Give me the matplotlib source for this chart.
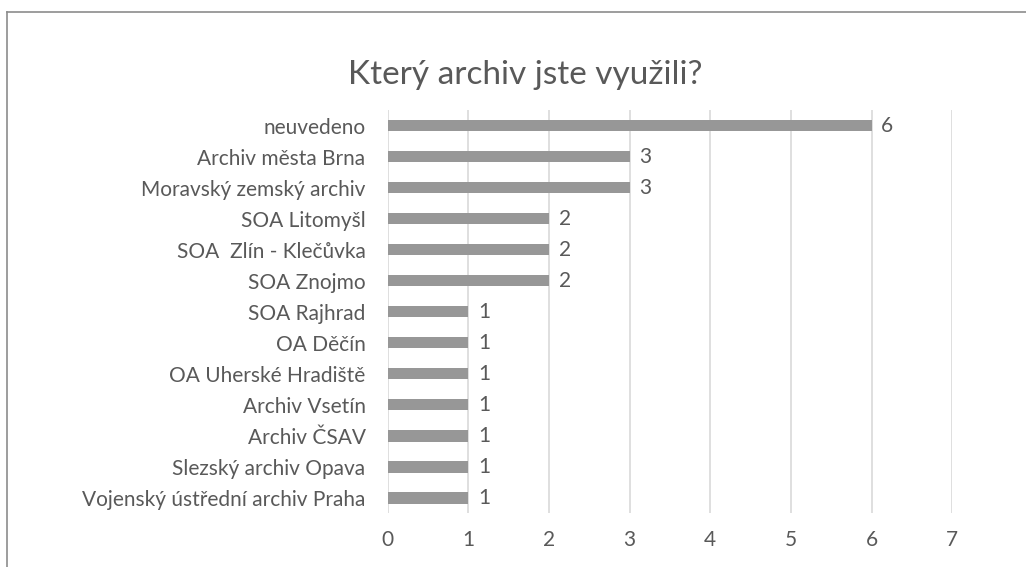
import matplotlib.pyplot as plt
from matplotlib.lines import Line2D

plt.rcParams['font.family'] = ['Lato', 'DejaVu Sans']

categories = [
    "neuvedeno",
    "Archiv města Brna",
    "Moravský zemský archiv",
    "SOA Litomyšl",
    "SOA  Zlín - Klečůvka",
    "SOA Znojmo",
    "SOA Rajhrad",
    "OA Děčín",
    "OA Uherské Hradiště",
    "Archiv Vsetín",
    "Archiv ČSAV",
    "Slezský archiv Opava",
    "Vojenský ústřední archiv Praha",
]
counts = [6, 3, 3, 2, 2, 2, 1, 1, 1, 1, 1, 1, 1]
xticks = [0, 1, 2, 3, 4, 5, 6, 7]

text_color = "#595959"
bar_color = "#979797"
grid_color = "#d9d9d9"

fig = plt.figure(figsize=(10.26, 5.67), dpi=100)
ax = fig.add_axes([0.378, 0.095, 0.550, 0.711])

pos = list(range(len(categories)))
ax.barh(pos, counts, height=0.38, color=bar_color, zorder=3)

for p, v in zip(pos, counts):
    ax.annotate(str(v), (v, p), xytext=(7, 0), textcoords="offset points",
                va="center", ha="left", fontsize=15, color=text_color)

ax.set_yticks(pos)
ax.set_yticklabels(categories)
ax.set_ylim(len(categories) - 0.5, -0.5)
ax.set_xlim(0, 7)
ax.set_xticks(xticks)

ax.tick_params(axis="both", length=0, labelsize=15, colors=text_color)
ax.tick_params(axis="y", pad=16)
ax.tick_params(axis="x", pad=12)

ax.grid(axis="x", color=grid_color, linewidth=1.2, zorder=0)
for s in ax.spines.values():
    s.set_visible(False)

fig.text(0.512, 0.868, "Který archiv jste využili?", ha="center", va="center",
         fontsize=24, color=text_color)

# chart frame (only top and left edge visible in the crop)
fig.add_artist(Line2D([0.007, 1.0], [0.979, 0.979], color="#8c8c8c", linewidth=1.2))
fig.add_artist(Line2D([0.007, 0.007], [0.0, 0.979], color="#8c8c8c", linewidth=1.2))

fig.savefig("out.png", dpi=100, facecolor="white")
